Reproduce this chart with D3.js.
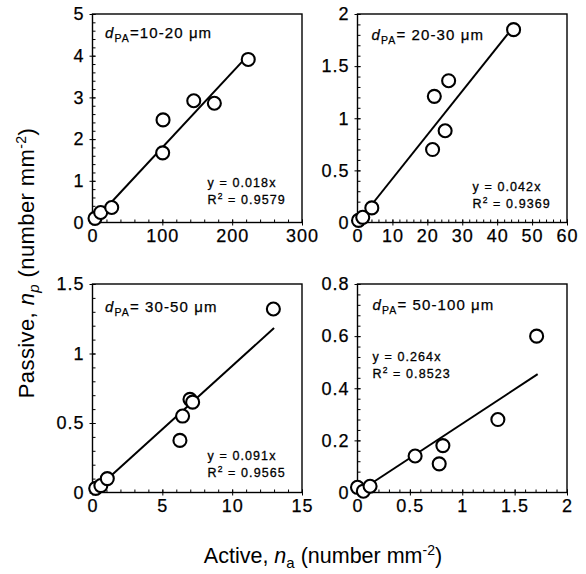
<!DOCTYPE html>
<html>
<head>
<meta charset="utf-8">
<script src="https://cdn.jsdelivr.net/npm/d3@7"></script>
<style>
  html, body { margin: 0; padding: 0; background: #fff; }
  svg { display: block; font-family: "Liberation Sans", Arial, sans-serif; }
</style>
</head>
<body>
<svg id="chart" width="586" height="574"></svg>
<script>
// Size classes of passive particles, one panel each
const sizeClasses = ["10-20 μm", "20-30 μm", "30-50 μm", "50-100 μm"];
const classSeparator = ["=", "= ", "= ", "= "];

// Active vs passive number densities (number mm-2)
const active1  = [3.6, 11.7, 27.5, 100.5, 101, 145, 174.5, 223];
const passive1 = [0.10, 0.24, 0.36, 1.67, 2.46, 2.92, 2.86, 3.91];
const active2  = [0.3, 1.5, 4.1, 21.5, 22.0, 25.1, 26.1, 44.7];
const passive2 = [0.02, 0.05, 0.14, 0.70, 1.21, 0.88, 1.36, 1.85];
const active3  = [0.23, 0.6, 1.06, 6.26, 6.45, 6.98, 7.17, 12.95];
const passive3 = [0.03, 0.05, 0.10, 0.375, 0.55, 0.67, 0.65, 1.32];
const active4  = [0.0, 0.056, 0.12, 0.55, 0.78, 0.815, 1.34, 1.71];
const passive4 = [0.02, 0.005, 0.024, 0.14, 0.11, 0.18, 0.28, 0.60];

// Regression through the origin: slope, R² and fitted range
const slopes   = [0.018, 0.042, 0.091, 0.264];
const r2Labels = ["0.9579", "0.9369", "0.9565", "0.8523"];
const fitEnd   = [220, 43, 13, 1.72];

// Axis ranges and tick labels
const xMax = [300, 60, 15, 2];
const yMax = [5, 2, 1.5, 0.8];
const xTicks1 = ["0", "100", "200", "300"];
const xTicks2 = ["0", "10", "20", "30", "40", "50", "60"];
const xTicks3 = ["0", "5", "10", "15"];
const xTicks4 = ["0", "0.5", "1", "1.5", "2"];
const yTicks1 = ["0", "1", "2", "3", "4", "5"];
const yTicks2 = ["0", "0.5", "1", "1.5", "2"];
const yTicks3 = ["0", "0.5", "1", "1.5"];
const yTicks4 = ["0", "0.2", "0.4", "0.6", "0.8"];
const minorPerMajor = 5;

const actives  = [active1, active2, active3, active4];
const passives = [passive1, passive2, passive3, passive4];
const xTickSets = [xTicks1, xTicks2, xTicks3, xTicks4];
const yTickSets = [yTicks1, yTicks2, yTicks3, yTicks4];

// Panel layout (2 x 2 grid)
const colLeft = [92.5, 357.5];
const rowTop  = [14, 284];
const panelW = 209.5, panelH = 208.5;
const tickFont = 18;

// Text placement inside each panel (offsets from panel origin)
const classLabelPos = [[12.5, 24], [14, 26], [12.5, 28], [15, 26]];
const eqnPos        = [[115, 173], [115, 177], [115, 176], [15, 77]];

const svg = d3.select("#chart");

sizeClasses.forEach((cls, i) => {
  const left = colLeft[i % 2], top = rowTop[Math.floor(i / 2)];
  const g = svg.append("g").attr("transform", `translate(${left},${top})`);

  const x = d3.scaleLinear().domain([0, xMax[i]]).range([0, panelW]);
  const y = d3.scaleLinear().domain([0, yMax[i]]).range([panelH, 0]);

  const xVals = xTickSets[i].map(Number);
  const yVals = yTickSets[i].map(Number);
  const xStep = xVals[1] - xVals[0], yStep = yVals[1] - yVals[0];
  const xMinor = d3.range(0, xMax[i] * minorPerMajor / xStep + 0.5).map(k => k * xStep / minorPerMajor);
  const yMinor = d3.range(0, yMax[i] * minorPerMajor / yStep + 0.5).map(k => k * yStep / minorPerMajor);

  // minor ticks, pointing into the plot
  g.append("g").attr("transform", `translate(0,${panelH})`)
    .call(d3.axisBottom(x).tickValues(xMinor).tickSize(-3).tickFormat(""))
    .call(a => a.select(".domain").remove());
  g.append("g")
    .call(d3.axisLeft(y).tickValues(yMinor).tickSize(-3).tickFormat(""))
    .call(a => a.select(".domain").remove());
  // major ticks crossing the axis
  g.append("g").attr("transform", `translate(0,${panelH + 3})`)
    .call(d3.axisBottom(x).tickValues(xVals).tickSize(-6).tickFormat(""))
    .call(a => a.select(".domain").remove());
  g.append("g").attr("transform", "translate(-3,0)")
    .call(d3.axisLeft(y).tickValues(yVals).tickSize(-6).tickFormat(""))
    .call(a => a.select(".domain").remove());
  g.selectAll(".tick line").attr("stroke", "#000").attr("stroke-width", 1);

  // tick labels
  const xl = g.append("g").attr("transform", `translate(0,${panelH})`)
    .call(d3.axisBottom(x).tickValues(xVals).tickSize(0).tickPadding(7)
      .tickFormat((d, k) => xTickSets[i][k]));
  const yl = g.append("g")
    .call(d3.axisLeft(y).tickValues(yVals).tickSize(0).tickPadding(8)
      .tickFormat((d, k) => yTickSets[i][k]));
  [xl, yl].forEach(a => {
    a.select(".domain").remove();
    a.attr("font-family", null).attr("font-size", null);
    a.selectAll("text").attr("font-size", tickFont).attr("fill", "#000")
      .attr("letter-spacing", 1).attr("stroke", "#000").attr("stroke-width", 0.25);
  });

  // frame
  g.append("rect").attr("x", 0).attr("y", 0).attr("width", panelW).attr("height", panelH)
    .attr("fill", "none").attr("stroke", "#000").attr("stroke-width", 1.4);

  // fitted line
  g.append("line")
    .attr("x1", x(0)).attr("y1", y(0))
    .attr("x2", x(fitEnd[i])).attr("y2", y(slopes[i] * fitEnd[i]))
    .attr("stroke", "#000").attr("stroke-width", 2);

  // observations
  g.selectAll("circle.pt").data(actives[i].map((a, k) => [a, passives[i][k]]))
    .join("circle").attr("class", "pt")
    .attr("cx", d => x(d[0])).attr("cy", d => y(d[1])).attr("r", 6.5)
    .attr("fill", "#fff").attr("stroke", "#000").attr("stroke-width", 2.1);

  // size-class label
  const lab = g.append("text")
    .attr("x", classLabelPos[i][0]).attr("y", classLabelPos[i][1])
    .attr("font-size", 15).attr("letter-spacing", 1.1).attr("fill", "#000")
    .attr("stroke", "#000").attr("stroke-width", 0.25);
  lab.append("tspan").attr("font-style", "italic").text("d");
  lab.append("tspan").attr("font-size", 10.5).attr("dy", 4).text("PA");
  lab.append("tspan").attr("dy", -4).text(classSeparator[i] + cls);

  // regression equation
  const eq = g.append("g").attr("font-size", 12.5).attr("letter-spacing", 1.1).attr("fill", "#000")
    .attr("stroke", "#000").attr("stroke-width", 0.3);
  eq.append("text").attr("x", eqnPos[i][0]).attr("y", eqnPos[i][1])
    .text(`y = ${d3.format(".3f")(slopes[i])}x`);
  const r = eq.append("text").attr("x", eqnPos[i][0]).attr("y", eqnPos[i][1] + 17);
  r.append("tspan").text("R");
  r.append("tspan").attr("font-size", 8.5).attr("dy", -5).text("2");
  r.append("tspan").attr("dy", 5).text(` = ${r2Labels[i]}`);
});

// shared axis titles
const yTitle = svg.append("text")
  .attr("transform", "translate(34,263) rotate(-90)")
  .attr("text-anchor", "middle").attr("font-size", 22).attr("letter-spacing", 0.4).attr("fill", "#000");
yTitle.append("tspan").text("Passive, ");
yTitle.append("tspan").attr("font-style", "italic").text("n");
yTitle.append("tspan").attr("font-style", "italic").attr("font-size", 15).attr("dy", 5).text("p");
yTitle.append("tspan").attr("dy", -5).text(" (number mm");
yTitle.append("tspan").attr("font-size", 14).attr("dy", -8).text("-2");
yTitle.append("tspan").attr("dy", 8).text(")");

const xTitle = svg.append("text")
  .attr("x", 323).attr("y", 563)
  .attr("text-anchor", "middle").attr("font-size", 21.5).attr("fill", "#000");
xTitle.append("tspan").text("Active, ");
xTitle.append("tspan").attr("font-style", "italic").text("n");
xTitle.append("tspan").attr("font-size", 15).attr("dy", 5).text("a");
xTitle.append("tspan").attr("dy", -5).text(" (number mm");
xTitle.append("tspan").attr("font-size", 14).attr("dy", -8).text("-2");
xTitle.append("tspan").attr("dy", 8).text(")");
</script>
</body>
</html>
